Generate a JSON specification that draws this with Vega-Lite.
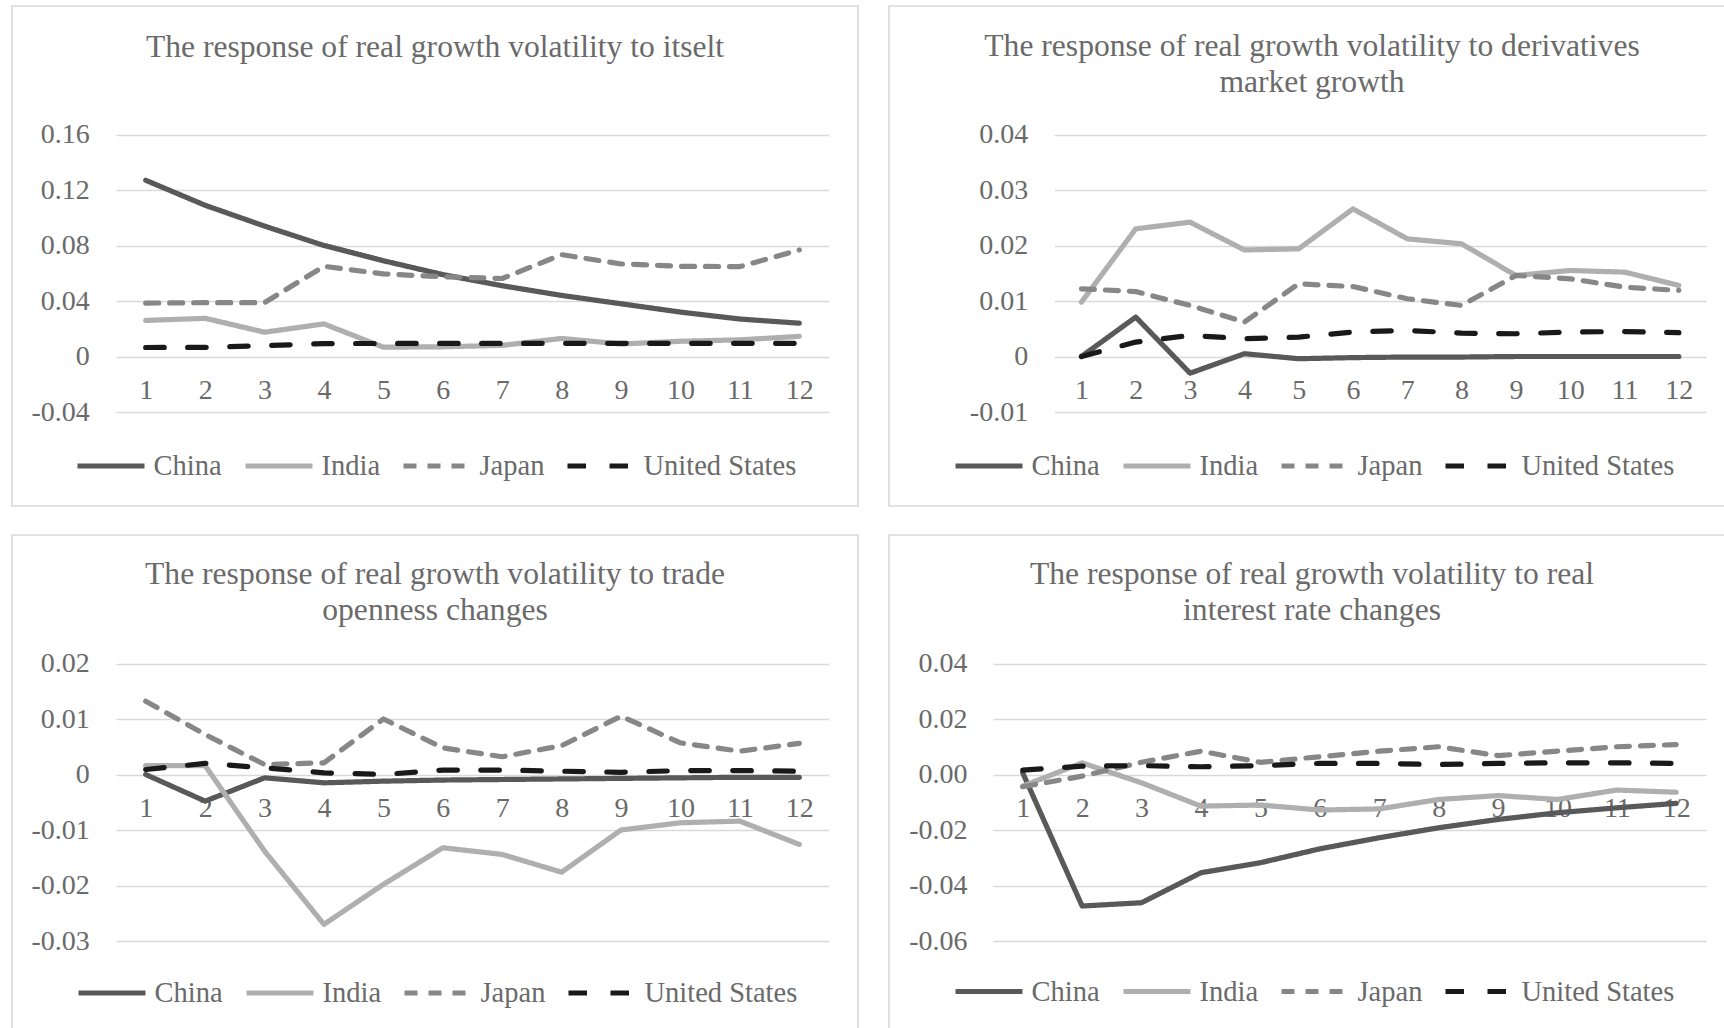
{
  "$schema": "https://vega.github.io/schema/vega-lite/v6.json",
  "padding": {"left": 11, "top": 5, "right": 0, "bottom": 0},
  "background": "white",
  "bounds": "flush",
  "columns": 2,
  "spacing": {"row": 29, "column": 31},
  "resolve": {
    "scale": {"color": "independent", "strokeDash": "independent"},
    "legend": {"color": "independent", "strokeDash": "independent"}
  },
  "datasets": {
    "p1": [
      {"country": "China", "period": 1, "value": 0.127},
      {"country": "China", "period": 2, "value": 0.109},
      {"country": "China", "period": 3, "value": 0.094},
      {"country": "China", "period": 4, "value": 0.080},
      {"country": "China", "period": 5, "value": 0.069},
      {"country": "China", "period": 6, "value": 0.059},
      {"country": "China", "period": 7, "value": 0.051},
      {"country": "China", "period": 8, "value": 0.044},
      {"country": "China", "period": 9, "value": 0.038},
      {"country": "China", "period": 10, "value": 0.032},
      {"country": "China", "period": 11, "value": 0.027},
      {"country": "China", "period": 12, "value": 0.024},
      {"country": "India", "period": 1, "value": 0.026},
      {"country": "India", "period": 2, "value": 0.0275},
      {"country": "India", "period": 3, "value": 0.0175},
      {"country": "India", "period": 4, "value": 0.0235},
      {"country": "India", "period": 5, "value": 0.0067},
      {"country": "India", "period": 6, "value": 0.007},
      {"country": "India", "period": 7, "value": 0.008},
      {"country": "India", "period": 8, "value": 0.013},
      {"country": "India", "period": 9, "value": 0.009},
      {"country": "India", "period": 10, "value": 0.011},
      {"country": "India", "period": 11, "value": 0.012},
      {"country": "India", "period": 12, "value": 0.0145},
      {"country": "Japan", "period": 1, "value": 0.0385},
      {"country": "Japan", "period": 2, "value": 0.0388},
      {"country": "Japan", "period": 3, "value": 0.0388},
      {"country": "Japan", "period": 4, "value": 0.065},
      {"country": "Japan", "period": 5, "value": 0.0595},
      {"country": "Japan", "period": 6, "value": 0.0575},
      {"country": "Japan", "period": 7, "value": 0.0562},
      {"country": "Japan", "period": 8, "value": 0.0734},
      {"country": "Japan", "period": 9, "value": 0.0667},
      {"country": "Japan", "period": 10, "value": 0.065},
      {"country": "Japan", "period": 11, "value": 0.0648},
      {"country": "Japan", "period": 12, "value": 0.0768},
      {"country": "United States", "period": 1, "value": 0.0065},
      {"country": "United States", "period": 2, "value": 0.0066},
      {"country": "United States", "period": 3, "value": 0.0078},
      {"country": "United States", "period": 4, "value": 0.0093},
      {"country": "United States", "period": 5, "value": 0.0094},
      {"country": "United States", "period": 6, "value": 0.0094},
      {"country": "United States", "period": 7, "value": 0.0094},
      {"country": "United States", "period": 8, "value": 0.0095},
      {"country": "United States", "period": 9, "value": 0.0095},
      {"country": "United States", "period": 10, "value": 0.0095},
      {"country": "United States", "period": 11, "value": 0.0095},
      {"country": "United States", "period": 12, "value": 0.0095}
    ],
    "p2": [
      {"country": "China", "period": 1, "value": 0.0},
      {"country": "China", "period": 2, "value": 0.0071},
      {"country": "China", "period": 3, "value": -0.003},
      {"country": "China", "period": 4, "value": 0.0005},
      {"country": "China", "period": 5, "value": -0.0004},
      {"country": "China", "period": 6, "value": -0.0002},
      {"country": "China", "period": 7, "value": -0.0001},
      {"country": "China", "period": 8, "value": -0.0001},
      {"country": "China", "period": 9, "value": 0.0},
      {"country": "China", "period": 10, "value": 0.0},
      {"country": "China", "period": 11, "value": 0.0},
      {"country": "China", "period": 12, "value": 0.0},
      {"country": "India", "period": 1, "value": 0.0098},
      {"country": "India", "period": 2, "value": 0.023},
      {"country": "India", "period": 3, "value": 0.0242},
      {"country": "India", "period": 4, "value": 0.0192},
      {"country": "India", "period": 5, "value": 0.0194},
      {"country": "India", "period": 6, "value": 0.0266},
      {"country": "India", "period": 7, "value": 0.0212},
      {"country": "India", "period": 8, "value": 0.0203},
      {"country": "India", "period": 9, "value": 0.0146},
      {"country": "India", "period": 10, "value": 0.0155},
      {"country": "India", "period": 11, "value": 0.0152},
      {"country": "India", "period": 12, "value": 0.0128},
      {"country": "Japan", "period": 1, "value": 0.0122},
      {"country": "Japan", "period": 2, "value": 0.0117},
      {"country": "Japan", "period": 3, "value": 0.0092},
      {"country": "Japan", "period": 4, "value": 0.0062},
      {"country": "Japan", "period": 5, "value": 0.0131},
      {"country": "Japan", "period": 6, "value": 0.0126},
      {"country": "Japan", "period": 7, "value": 0.0104},
      {"country": "Japan", "period": 8, "value": 0.0092},
      {"country": "Japan", "period": 9, "value": 0.0146},
      {"country": "Japan", "period": 10, "value": 0.014},
      {"country": "Japan", "period": 11, "value": 0.0125},
      {"country": "Japan", "period": 12, "value": 0.0119},
      {"country": "United States", "period": 1, "value": 0.0},
      {"country": "United States", "period": 2, "value": 0.0026},
      {"country": "United States", "period": 3, "value": 0.0038},
      {"country": "United States", "period": 4, "value": 0.0032},
      {"country": "United States", "period": 5, "value": 0.0035},
      {"country": "United States", "period": 6, "value": 0.0044},
      {"country": "United States", "period": 7, "value": 0.0047},
      {"country": "United States", "period": 8, "value": 0.0042},
      {"country": "United States", "period": 9, "value": 0.0041},
      {"country": "United States", "period": 10, "value": 0.0044},
      {"country": "United States", "period": 11, "value": 0.0045},
      {"country": "United States", "period": 12, "value": 0.0043}
    ],
    "p3": [
      {"country": "China", "period": 1, "value": 0.0},
      {"country": "China", "period": 2, "value": -0.0048},
      {"country": "China", "period": 3, "value": -0.0006},
      {"country": "China", "period": 4, "value": -0.0015},
      {"country": "China", "period": 5, "value": -0.0012},
      {"country": "China", "period": 6, "value": -0.001},
      {"country": "China", "period": 7, "value": -0.0009},
      {"country": "China", "period": 8, "value": -0.0008},
      {"country": "China", "period": 9, "value": -0.0007},
      {"country": "China", "period": 10, "value": -0.0006},
      {"country": "China", "period": 11, "value": -0.0005},
      {"country": "China", "period": 12, "value": -0.0005},
      {"country": "India", "period": 1, "value": 0.0016},
      {"country": "India", "period": 2, "value": 0.0016},
      {"country": "India", "period": 3, "value": -0.0138},
      {"country": "India", "period": 4, "value": -0.027},
      {"country": "India", "period": 5, "value": -0.0198},
      {"country": "India", "period": 6, "value": -0.0132},
      {"country": "India", "period": 7, "value": -0.0144},
      {"country": "India", "period": 8, "value": -0.0176},
      {"country": "India", "period": 9, "value": -0.01},
      {"country": "India", "period": 10, "value": -0.0087},
      {"country": "India", "period": 11, "value": -0.0084},
      {"country": "India", "period": 12, "value": -0.0126},
      {"country": "Japan", "period": 1, "value": 0.0132},
      {"country": "Japan", "period": 2, "value": 0.0072},
      {"country": "Japan", "period": 3, "value": 0.0018},
      {"country": "Japan", "period": 4, "value": 0.0021},
      {"country": "Japan", "period": 5, "value": 0.01},
      {"country": "Japan", "period": 6, "value": 0.0048},
      {"country": "Japan", "period": 7, "value": 0.0032},
      {"country": "Japan", "period": 8, "value": 0.0052},
      {"country": "Japan", "period": 9, "value": 0.0105},
      {"country": "Japan", "period": 10, "value": 0.0057},
      {"country": "Japan", "period": 11, "value": 0.0042},
      {"country": "Japan", "period": 12, "value": 0.0056},
      {"country": "United States", "period": 1, "value": 0.0009},
      {"country": "United States", "period": 2, "value": 0.002},
      {"country": "United States", "period": 3, "value": 0.0012},
      {"country": "United States", "period": 4, "value": 0.0003},
      {"country": "United States", "period": 5, "value": 0.0},
      {"country": "United States", "period": 6, "value": 0.0008},
      {"country": "United States", "period": 7, "value": 0.0008},
      {"country": "United States", "period": 8, "value": 0.0006},
      {"country": "United States", "period": 9, "value": 0.0004},
      {"country": "United States", "period": 10, "value": 0.0007},
      {"country": "United States", "period": 11, "value": 0.0007},
      {"country": "United States", "period": 12, "value": 0.0006}
    ],
    "p4": [
      {"country": "China", "period": 1, "value": 0.0006},
      {"country": "China", "period": 2, "value": -0.0474},
      {"country": "China", "period": 3, "value": -0.0462},
      {"country": "China", "period": 4, "value": -0.0354},
      {"country": "China", "period": 5, "value": -0.0318},
      {"country": "China", "period": 6, "value": -0.0268},
      {"country": "China", "period": 7, "value": -0.0228},
      {"country": "China", "period": 8, "value": -0.0192},
      {"country": "China", "period": 9, "value": -0.0162},
      {"country": "China", "period": 10, "value": -0.0138},
      {"country": "China", "period": 11, "value": -0.012},
      {"country": "China", "period": 12, "value": -0.0104},
      {"country": "India", "period": 1, "value": -0.0042},
      {"country": "India", "period": 2, "value": 0.0042},
      {"country": "India", "period": 3, "value": -0.003},
      {"country": "India", "period": 4, "value": -0.0114},
      {"country": "India", "period": 5, "value": -0.011},
      {"country": "India", "period": 6, "value": -0.0128},
      {"country": "India", "period": 7, "value": -0.0124},
      {"country": "India", "period": 8, "value": -0.009},
      {"country": "India", "period": 9, "value": -0.0076},
      {"country": "India", "period": 10, "value": -0.009},
      {"country": "India", "period": 11, "value": -0.0056},
      {"country": "India", "period": 12, "value": -0.0064},
      {"country": "Japan", "period": 1, "value": -0.0044},
      {"country": "Japan", "period": 2, "value": -0.0006},
      {"country": "Japan", "period": 3, "value": 0.0044},
      {"country": "Japan", "period": 4, "value": 0.0084},
      {"country": "Japan", "period": 5, "value": 0.0044},
      {"country": "Japan", "period": 6, "value": 0.0064},
      {"country": "Japan", "period": 7, "value": 0.0084},
      {"country": "Japan", "period": 8, "value": 0.01},
      {"country": "Japan", "period": 9, "value": 0.0068},
      {"country": "Japan", "period": 10, "value": 0.0084},
      {"country": "Japan", "period": 11, "value": 0.01},
      {"country": "Japan", "period": 12, "value": 0.0108},
      {"country": "United States", "period": 1, "value": 0.0016},
      {"country": "United States", "period": 2, "value": 0.003},
      {"country": "United States", "period": 3, "value": 0.0032},
      {"country": "United States", "period": 4, "value": 0.0028},
      {"country": "United States", "period": 5, "value": 0.0032},
      {"country": "United States", "period": 6, "value": 0.004},
      {"country": "United States", "period": 7, "value": 0.004},
      {"country": "United States", "period": 8, "value": 0.0036},
      {"country": "United States", "period": 9, "value": 0.004},
      {"country": "United States", "period": 10, "value": 0.0042},
      {"country": "United States", "period": 11, "value": 0.0042},
      {"country": "United States", "period": 12, "value": 0.004}
    ]
  },
  "concat": [
    {
      "width": 846, "height": 500,
      "data": {"name": "p1"},
      "title": {"text": "The response of real growth volatility to itselt", "offset": -57.5},
      "mark": {"type": "line"},
      "encoding": {
        "x": {"field": "period", "type": "quantitative",
          "scale": {"domain": [0.5, 12.5], "range": [104, 817], "nice": false, "zero": false},
          "axis": {"values": [1,2,3,4,5,6,7,8,9,10,11,12], "format": "d", "grid": false, "offset": -115.5, "labelBaseline": "middle", "labelFlush": false, "labelOverlap": false}},
        "y": {"field": "value", "type": "quantitative",
          "scale": {"domain": [-0.04, 0.16], "range": [406, 128.5], "nice": false, "zero": false},
          "axis": {"values": [-0.04, 0, 0.04, 0.08, 0.12, 0.16], "offset": -77.3, "labelExpr": "replace(format(datum.value, '~g'), '\u2212', '-')"}},
        "color": {"field": "country", "type": "nominal",
          "scale": {"domain": ["China", "India", "Japan", "United States"], "range": ["#595959", "#afafaf", "#878787", "#191919"]},
          "legend": {"orient": "none", "legendX": 62.5, "legendY": 423.5, "encode": {"symbols": {"update": {"strokeCap": {"value": "round"}}}}}},
        "strokeDash": {"field": "country", "type": "nominal",
          "scale": {"domain": ["China", "India", "Japan", "United States"], "range": [[1, 0], [1, 0], [13, 11], [18.5, 23.5]]},
          "legend": {"orient": "none", "legendX": 62.5, "legendY": 423.5, "encode": {"symbols": {"update": {"strokeCap": {"value": "round"}}}}}}
      }
    },
    {
      "width": 846, "height": 500,
      "data": {"name": "p2"},
      "title": {"text": ["The response of real growth volatility to derivatives", "market growth"], "offset": -93},
      "mark": {"type": "line"},
      "encoding": {
        "x": {"field": "period", "type": "quantitative",
          "scale": {"domain": [0.5, 12.5], "range": [165.3, 817], "nice": false, "zero": false},
          "axis": {"values": [1,2,3,4,5,6,7,8,9,10,11,12], "format": "d", "grid": false, "offset": -115.5, "labelBaseline": "middle", "labelFlush": false, "labelOverlap": false}},
        "y": {"field": "value", "type": "quantitative",
          "scale": {"domain": [-0.01, 0.04], "range": [406, 128.5], "nice": false, "zero": false},
          "axis": {"values": [-0.01, 0, 0.01, 0.02, 0.03, 0.04], "offset": -138.7, "labelExpr": "replace(format(datum.value, '~g'), '\u2212', '-')"}},
        "color": {"field": "country", "type": "nominal",
          "scale": {"domain": ["China", "India", "Japan", "United States"], "range": ["#595959", "#afafaf", "#878787", "#191919"]},
          "legend": {"orient": "none", "legendX": 63.5, "legendY": 423.5, "encode": {"symbols": {"update": {"strokeCap": {"value": "round"}}}}}},
        "strokeDash": {"field": "country", "type": "nominal",
          "scale": {"domain": ["China", "India", "Japan", "United States"], "range": [[1, 0], [1, 0], [13, 11], [18.5, 23.5]]},
          "legend": {"orient": "none", "legendX": 63.5, "legendY": 423.5, "encode": {"symbols": {"update": {"strokeCap": {"value": "round"}}}}}}
      }
    },
    {
      "width": 846, "height": 500,
      "data": {"name": "p3"},
      "title": {"text": ["The response of real growth volatility to trade", "openness changes"], "offset": -92},
      "mark": {"type": "line"},
      "encoding": {
        "x": {"field": "period", "type": "quantitative",
          "scale": {"domain": [0.5, 12.5], "range": [104, 817], "nice": false, "zero": false},
          "axis": {"values": [1,2,3,4,5,6,7,8,9,10,11,12], "format": "d", "grid": false, "offset": -226.5, "labelBaseline": "middle", "labelFlush": false, "labelOverlap": false}},
        "y": {"field": "value", "type": "quantitative",
          "scale": {"domain": [-0.03, 0.02], "range": [406, 128.5], "nice": false, "zero": false},
          "axis": {"values": [-0.03, -0.02, -0.01, 0, 0.01, 0.02], "offset": -77.3, "labelExpr": "replace(format(datum.value, '~g'), '\u2212', '-')"}},
        "color": {"field": "country", "type": "nominal",
          "scale": {"domain": ["China", "India", "Japan", "United States"], "range": ["#595959", "#afafaf", "#878787", "#191919"]},
          "legend": {"orient": "none", "legendX": 63.5, "legendY": 421.5, "encode": {"symbols": {"update": {"strokeCap": {"value": "round"}}}}}},
        "strokeDash": {"field": "country", "type": "nominal",
          "scale": {"domain": ["China", "India", "Japan", "United States"], "range": [[1, 0], [1, 0], [13, 11], [18.5, 23.5]]},
          "legend": {"orient": "none", "legendX": 63.5, "legendY": 421.5, "encode": {"symbols": {"update": {"strokeCap": {"value": "round"}}}}}}
      }
    },
    {
      "width": 846, "height": 500,
      "data": {"name": "p4"},
      "title": {"text": ["The response of real growth volatility to real", "interest rate changes"], "offset": -92},
      "mark": {"type": "line"},
      "encoding": {
        "x": {"field": "period", "type": "quantitative",
          "scale": {"domain": [0.5, 12.5], "range": [104, 817], "nice": false, "zero": false},
          "axis": {"values": [1,2,3,4,5,6,7,8,9,10,11,12], "format": "d", "grid": false, "offset": -226.5, "labelBaseline": "middle", "labelFlush": false, "labelOverlap": false}},
        "y": {"field": "value", "type": "quantitative",
          "scale": {"domain": [-0.06, 0.04], "range": [406, 128.5], "nice": false, "zero": false},
          "axis": {"values": [-0.06, -0.04, -0.02, 0, 0.02, 0.04], "offset": -78, "labelExpr": "replace(format(datum.value, '.2f'), '\u2212', '-')"}},
        "color": {"field": "country", "type": "nominal",
          "scale": {"domain": ["China", "India", "Japan", "United States"], "range": ["#595959", "#afafaf", "#878787", "#191919"]},
          "legend": {"orient": "none", "legendX": 63.5, "legendY": 420, "encode": {"symbols": {"update": {"strokeCap": {"value": "round"}}}}}},
        "strokeDash": {"field": "country", "type": "nominal",
          "scale": {"domain": ["China", "India", "Japan", "United States"], "range": [[1, 0], [1, 0], [13, 11], [18.5, 23.5]]},
          "legend": {"orient": "none", "legendX": 63.5, "legendY": 420, "encode": {"symbols": {"update": {"strokeCap": {"value": "round"}}}}}}
      }
    }
  ],
  "config": {
    "font": "Liberation Serif",
    "view": {"stroke": "#d9d9d9", "strokeWidth": 1.6},
    "line": {"strokeWidth": 5.2, "strokeCap": "round", "strokeJoin": "round"},
    "axis": {
      "labelFont": "Liberation Serif", "labelFontSize": 28, "labelColor": "#6a6a6a",
      "ticks": false, "domain": false, "title": null, "labelPadding": 0,
      "gridColor": "#d9d9d9", "gridWidth": 1.7, "labelBound": false
    },
    "legend": {
      "title": null, "direction": "horizontal", "symbolType": "stroke", "symbolSize": 4489,
      "symbolStrokeWidth": 5.5, "labelFont": "Liberation Serif", "labelFontSize": 28.5,
      "labelColor": "#6a6a6a", "labelLimit": 400, "labelOffset": 6, "columnPadding": 20, "padding": 0
    },
    "title": {
      "font": "Liberation Serif", "fontSize": 31.6, "fontWeight": "normal", "color": "#6a6a6a",
      "anchor": "middle", "frame": "group", "lineHeight": 36
    }
  }
}
